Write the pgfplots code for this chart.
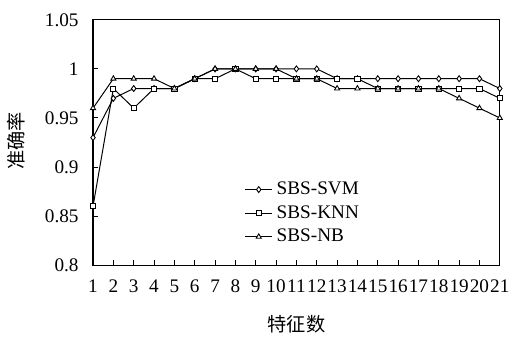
\documentclass[border=0pt]{standalone}
\usepackage{pgfplots}
\pgfplotsset{compat=1.18}
\usepackage{fontspec}
\setmainfont{Liberation Serif}
\newfontfamily\cjk{Noto Sans CJK SC}
\begin{document}
\begin{tikzpicture}
\begin{axis}[
  name=ax,
  scale only axis,
  width=205.5pt, height=124pt,
  xmin=1, xmax=21, ymin=0.8, ymax=1.05,
  xtick={1,...,21},
  ytick={0.8,0.85,0.9,0.95,1,1.05},
  tick align=inside,
  xtick pos=bottom, ytick pos=left,
  major tick length=2.5pt,
  axis line style={line width=0.7pt},
  tick style={line width=0.5pt, black},
  /pgf/number format/assume math mode=true,
  ticklabel style={font=\fontsize{9.7}{11}\selectfont},
  yticklabel style={xshift=-3.8pt},
  xticklabel style={yshift=-3.7pt},
  xlabel={\cjk\fontsize{9.7}{11}\selectfont 特征数},
  ylabel={\cjk\fontsize{9.7}{11}\selectfont 准确率},
  xlabel style={at={(axis description cs:0.5,-0.242)}, anchor=center},
  ylabel style={at={(axis description cs:-0.188,0.506)}, anchor=center},
  legend style={draw=none, fill=none, at={(0.372,0.358)}, anchor=north west,
    font=\fontsize{9.7}{11}\selectfont, row sep=0pt, inner sep=0pt},
  legend cell align=left,
  legend image code/.code={\draw[mark repeat=2,mark phase=2] plot coordinates {(0cm,0cm)(0.24cm,0cm)(0.48cm,0cm)};},
]
\addplot[black, line width=0.5pt, mark=diamond*, mark size=1.5pt, mark options={fill=white, line width=0.45pt}] coordinates {
(1,0.93)(2,0.97)(3,0.98)(4,0.98)(5,0.98)(6,0.99)(7,1.0)(8,1.0)(9,1.0)(10,1.0)(11,1.0)(12,1.0)(13,0.99)(14,0.99)(15,0.99)(16,0.99)(17,0.99)(18,0.99)(19,0.99)(20,0.99)(21,0.98)};
\addplot[black, line width=0.5pt, mark=square*, mark size=1.3pt, mark options={fill=white, line width=0.45pt}] coordinates {
(1,0.86)(2,0.98)(3,0.96)(4,0.98)(5,0.98)(6,0.99)(7,0.99)(8,1.0)(9,0.99)(10,0.99)(11,0.99)(12,0.99)(13,0.99)(14,0.99)(15,0.98)(16,0.98)(17,0.98)(18,0.98)(19,0.98)(20,0.98)(21,0.97)};
\addplot[black, line width=0.5pt, mark=triangle*, mark size=1.5pt, mark options={fill=white, line width=0.45pt}] coordinates {
(1,0.96)(2,0.99)(3,0.99)(4,0.99)(5,0.98)(6,0.99)(7,1.0)(8,1.0)(9,1.0)(10,1.0)(11,0.99)(12,0.99)(13,0.98)(14,0.98)(15,0.98)(16,0.98)(17,0.98)(18,0.98)(19,0.97)(20,0.96)(21,0.95)};
\legend{SBS-SVM,SBS-KNN,SBS-NB}
\end{axis}
\path[use as bounding box] ([shift={(-47pt,-35pt)}]ax.south west) rectangle ([shift={(211pt,134pt)}]ax.south west);
\end{tikzpicture}
\end{document}
